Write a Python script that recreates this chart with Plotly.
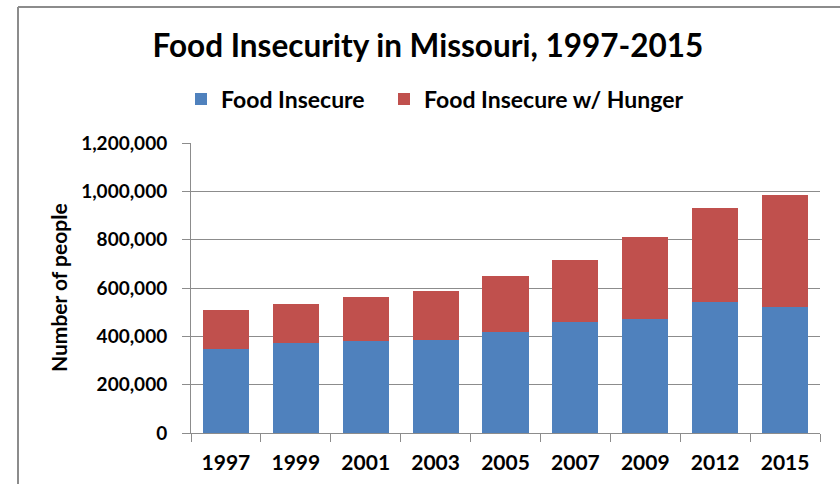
import plotly.graph_objects as go

years = ["1997", "1999", "2001", "2003", "2005", "2007", "2009", "2012", "2015"]
food_insecure = [349000, 372000, 379000, 383000, 418000, 461000, 472000, 543000, 521000]
with_hunger = [160000, 163000, 184000, 206000, 230000, 256000, 340000, 387000, 462000]
y_ticks = [0, 200000, 400000, 600000, 800000, 1000000, 1200000]

FONT = "Lato"
W, H = 840, 484
L, R, T, B = 191, 20, 143, 51
pw, ph = W - L - R, H - T - B

def px(x):
    return (x - L) / pw

def py(y):
    return (H - B - y) / ph

fig = go.Figure()
fig.add_trace(go.Bar(x=years, y=food_insecure, name="Food Insecure", legend="legend",
                     showlegend=True,
                     marker=dict(color="#4F81BD", line=dict(width=0))))
fig.add_trace(go.Bar(x=years, y=with_hunger, name="Food Insecure w/ Hunger", legend="legend2",
                     showlegend=True,
                     marker=dict(color="#C0504D", line=dict(width=0))))

legend_style = dict(orientation="h", xanchor="left", y=py(99), yanchor="middle",
                    font=dict(size=23, family=FONT, weight="bold"),
                    bgcolor="rgba(0,0,0,0)", visible=True)

fig.update_layout(
    width=W, height=H, showlegend=True,
    barmode="stack", bargap=0.34,
    margin=dict(l=L, r=R, t=T, b=B, autoexpand=False),
    paper_bgcolor="white", plot_bgcolor="white",
    font=dict(family=FONT, color="black"),
    title=dict(text="Food Insecurity in Missouri, 1997-2015",
               x=428 / W, xanchor="center", y=1 - 46 / H, yanchor="middle",
               font=dict(size=31.5, family=FONT, color="black", weight="bold")),
    legend=dict(x=px(181), **legend_style),
    legend2=dict(x=px(384), **legend_style),
    xaxis=dict(type="category", showgrid=False, showline=True, linecolor="#8c8c8c",
               linewidth=1, ticks="outside", tickson="boundaries", ticklen=8,
               tickcolor="#8c8c8c", tickfont=dict(size=21, family=FONT, weight="bold"),
               ticklabelstandoff=11),
    yaxis=dict(range=[0, 1200000], tickvals=y_ticks, tickformat=",d",
               showgrid=True, gridcolor="#8c8c8c", gridwidth=1,
               showline=True, linecolor="#8c8c8c", linewidth=1,
               ticks="outside", ticklen=8, tickcolor="#8c8c8c",
               tickfont=dict(size=19, family=FONT, weight="bold"),
               ticklabelstandoff=11, zeroline=False),
    annotations=[dict(text="Number of people", textangle=-90, xref="paper", yref="paper",
                      x=px(58), y=py(288), xanchor="center", yanchor="middle",
                      showarrow=False, font=dict(size=21, family=FONT, weight="bold"))],
    shapes=[
        dict(type="line", xref="paper", yref="paper", x0=px(18), x1=px(18),
             y0=py(7), y1=py(490), line=dict(color="#8c8c8c", width=2)),
        dict(type="line", xref="paper", yref="paper", x0=px(18), x1=px(850),
             y0=py(7), y1=py(7), line=dict(color="#8c8c8c", width=2)),
    ],
)

fig.write_html("out.html", config={"displayModeBar": False},
               post_script="document.body.style.margin='0px';document.body.style.overflow='hidden';")
